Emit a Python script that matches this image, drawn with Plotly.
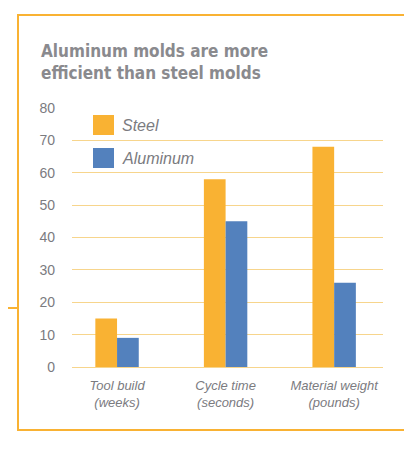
"""Aluminum vs steel molds - grouped bar chart"""

from plotly.graph_objects import Bar, Figure

# data
categories = ["Tool build<br>(weeks)", "Cycle time<br>(seconds)", "Material weight<br>(pounds)"]
steel = [15, 58, 68]
aluminum = [9, 45, 26]
series_names = ["Steel", "Aluminum"]
y_ticks = [0, 10, 20, 30, 40, 50, 60, 70, 80]

ORANGE = "#f9b233"
BLUE = "#5381bd"
GRID = "#f7d58c"
GRAY = "#8a8a8e"
TEXT = "#7b7b7f"
SANS = "Liberation Sans, Arial, sans-serif"
COND = "DejaVu Sans Condensed, Liberation Sans, sans-serif"

# page shows the figure with an 8px offset
OFF = 8
W, H = 412 - OFF, 451 - OFF
L, R, T, B = 72 - OFF, 29, 108 - OFF, 84
PW, PH = W - L - R, H - T - B


def px(x):
    """page pixel x -> paper"""
    return (x - OFF - L) / PW


def py(y):
    """page pixel y -> paper"""
    return (H - B - (y - OFF)) / PH


fig = Figure()
fig.add_trace(Bar(x=categories, y=steel, name=series_names[0], marker_color=ORANGE,
                  marker_line_width=0))
fig.add_trace(Bar(x=categories, y=aluminum, name=series_names[1], marker_color=BLUE,
                  marker_line_width=0))

shapes = [
    # frame
    dict(type="rect", xref="paper", yref="paper", x0=px(18), x1=px(406), y0=py(430), y1=py(15),
         line=dict(color=ORANGE, width=2), layer="below"),
    # short line on the left
    dict(type="line", xref="paper", yref="paper", x0=px(0), x1=px(18), y0=py(308), y1=py(308),
         line=dict(color=ORANGE, width=2)),
    # legend swatches
    dict(type="rect", xref="paper", yref="paper", x0=px(93), x1=px(114), y0=py(135), y1=py(115),
         fillcolor=ORANGE, line_width=0),
    dict(type="rect", xref="paper", yref="paper", x0=px(93), x1=px(114), y0=py(168), y1=py(148),
         fillcolor=BLUE, line_width=0),
]

annotations = [
    dict(text="<b>Aluminum molds are more<br>efficient than steel molds</b>", xref="paper",
         yref="paper", x=px(39), y=py(39), xanchor="left", yanchor="top", align="left",
         showarrow=False, font=dict(size=17, color=GRAY, family=COND)),
    dict(text="<i>" + series_names[0] + "</i>", xref="paper", yref="paper", x=px(120),
         y=py(125), xanchor="left", yanchor="middle", showarrow=False,
         font=dict(size=16, color=TEXT, family=SANS)),
    dict(text="<i>" + series_names[1] + "</i>", xref="paper", yref="paper", x=px(120),
         y=py(158), xanchor="left", yanchor="middle", showarrow=False,
         font=dict(size=16, color=TEXT, family=SANS)),
]

fig.update_layout(
    width=W, height=H,
    margin=dict(l=L, r=R, t=T, b=B, pad=0),
    paper_bgcolor="white", plot_bgcolor="white",
    font=dict(family=SANS, color=TEXT),
    barmode="group", bargap=0.6, bargroupgap=0,
    showlegend=False,
    shapes=shapes, annotations=annotations,
    xaxis=dict(range=[-0.415, 2.45], showgrid=False, showline=False, ticks="",
               tickfont=dict(size=13, color=TEXT), ticklabelstandoff=9),
    yaxis=dict(range=[0, 80], tickvals=y_ticks, showgrid=True, gridcolor=GRID, gridwidth=1,
               zeroline=True, zerolinecolor=GRID, zerolinewidth=1, showline=False,
               ticks="", tickfont=dict(size=14, color=TEXT), ticklabelstandoff=16),
)
# italic category labels
fig.update_xaxes(tickvals=categories, ticktext=["<i>" + c + "</i>" for c in categories])

fig.write_html("out.html")
